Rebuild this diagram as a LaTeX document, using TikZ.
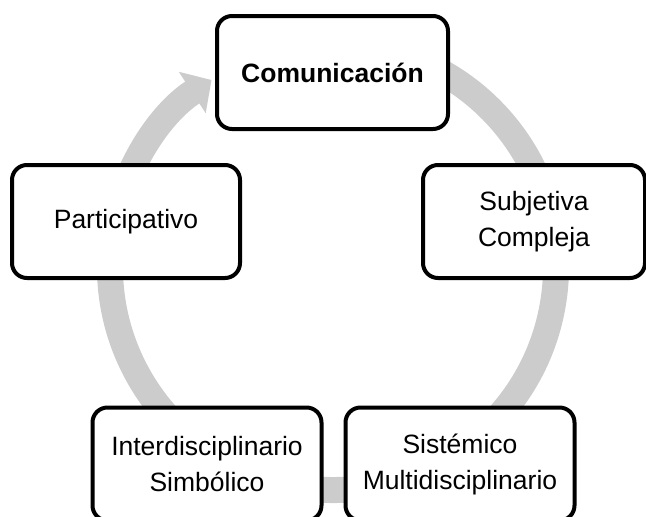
\documentclass[tikz,border=0pt]{standalone}
\usepackage{fontspec}
\setmainfont{Liberation Sans}
\usepackage{tikz}
\usetikzlibrary{arrows.meta}
\definecolor{ringgray}{HTML}{CCCCCC}

\begin{document}
\begin{tikzpicture}[x=1pt, y=-1pt,
  box/.style={draw, line width=4pt, rounded corners=15pt, fill=white, align=center,
    minimum width=229pt, minimum height=113pt, inner sep=0pt,
    font=\fontsize{26.5}{36}\selectfont},
  ring/.style={draw=ringgray, line width=26pt, -{Triangle[length=23pt,width=48pt]}}]
  \path[use as bounding box, clip] (0,0) rectangle (646,517);
  \coordinate (ctr) at (333,267);
  \draw[ring] ([shift={(-80:223)}]ctr) arc[start angle=-80, end angle=237, radius=223];
  \node[box, minimum width=231pt] (com) at (332.5,72.5) {\bfseries Comunicación};
  \node[box, minimum width=222pt] (sub) at (534,221.5) {Subjetiva\\Compleja};
  \node[box] (sis) at (460,464) {Sistémico\\Multidisciplinario};
  \node[box] (int) at (207,464) {Interdisciplinario\\Simbólico};
  \node[box, minimum width=228pt] (par) at (126,221.5) {Participativo};
\end{tikzpicture}
\end{document}
